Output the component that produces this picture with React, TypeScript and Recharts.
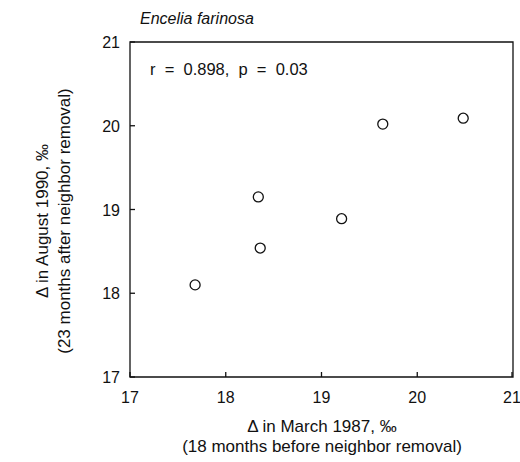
import React from 'react';
import { ScatterChart, Scatter, XAxis, YAxis, ReferenceArea } from 'recharts';

// delta values, per plant
const march1987 = [17.68, 18.34, 18.36, 19.21, 19.64, 20.48];
const august1990 = [18.1, 19.15, 18.54, 18.89, 20.02, 20.09];
const axisTicks = [17, 18, 19, 20, 21];

const points = march1987.map((x, i) => ({ x, y: august1990[i] }));

const FONT = '"Liberation Sans", Arial, Helvetica, sans-serif';
const INK = '#111';
const TICK = 5;
const TW = 1.3;

const BottomTick = (props: any) => {
  const { x, y, payload } = props;
  return (
    <g>
      <rect x={x - TW / 2} y={y - TICK} width={TW} height={TICK} fill={INK} />
      <text x={x} y={y + 26} textAnchor="middle" fontSize={16} fill={INK} fontFamily={FONT}>
        {payload.value}
      </text>
    </g>
  );
};

const TopTick = (props: any) => {
  const { x, y } = props;
  return <rect x={x - TW / 2} y={y} width={TW} height={TICK} fill={INK} />;
};

const LeftTick = (props: any) => {
  const { x, y, payload } = props;
  return (
    <g>
      <rect x={x} y={y - TW / 2} width={TICK} height={TW} fill={INK} />
      <text x={x - 10} y={y + 6} textAnchor="end" fontSize={16} fill={INK} fontFamily={FONT}>
        {payload.value}
      </text>
    </g>
  );
};

const RightTick = (props: any) => {
  const { x, y } = props;
  return <rect x={x - TICK} y={y - TW / 2} width={TICK} height={TW} fill={INK} />;
};

const Ring = (props: any) => (
  <circle cx={props.cx} cy={props.cy} r={5} fill="#fff" stroke={INK} strokeWidth={1.3} />
);

const textBase: React.CSSProperties = {
  position: 'absolute', fontFamily: FONT, color: INK, whiteSpace: 'pre', lineHeight: '20px',
};

export default function App() {
  return (
    <div style={{ position: 'absolute', left: 0, top: 0, width: 520, height: 462 }}>
      <ScatterChart width={520} height={462} margin={{ top: 41, right: 6, bottom: 0, left: 0 }}>
        <XAxis
          xAxisId="bottom"
          type="number"
          dataKey="x"
          domain={[17, 21]}
          ticks={axisTicks}
          height={85}
          tickSize={0}
          tickMargin={0}
          tick={<BottomTick />}
          axisLine={false}
        />
        <XAxis
          xAxisId="top"
          orientation="top"
          type="number"
          dataKey="x"
          domain={[17, 21]}
          ticks={axisTicks}
          height={1}
          tickSize={0}
          tickMargin={0}
          tick={<TopTick />}
          axisLine={false}
        />
        <YAxis
          yAxisId="left"
          type="number"
          dataKey="y"
          domain={[17, 21]}
          ticks={axisTicks}
          width={130}
          tickSize={0}
          tickMargin={0}
          tick={<LeftTick />}
          axisLine={false}
        />
        <YAxis
          yAxisId="right"
          orientation="right"
          type="number"
          dataKey="y"
          domain={[17, 21]}
          ticks={axisTicks}
          width={1}
          tickSize={0}
          tickMargin={0}
          tick={<RightTick />}
          axisLine={false}
        />
        <ReferenceArea
          xAxisId="bottom"
          yAxisId="left"
          x1={17}
          x2={21}
          y1={17}
          y2={21}
          fill="none"
          fillOpacity={0}
          stroke={INK}
          strokeWidth={1.3}
          strokeOpacity={1}
          ifOverflow="visible"
        />
        <Scatter
          data={points}
          xAxisId="bottom"
          yAxisId="left"
          shape={<Ring />}
          isAnimationActive={false}
        />
      </ScatterChart>
      <div style={{ ...textBase, left: 140, top: 9, fontSize: 16, fontStyle: 'italic' }}>
        Encelia farinosa
      </div>
      <div style={{ ...textBase, left: 150, top: 59, fontSize: 16.5 }}>
        {'r  =  0.898,  p  =  0.03'}
      </div>
      <div style={{ ...textBase, left: 130, width: 384, top: 417, fontSize: 17, textAlign: 'center' }}>
        {'Δ in March 1987, ‰\n(18 months before neighbor removal)'}
      </div>
      <div
        style={{
          ...textBase, left: 54 - 192, top: 221 - 22, width: 384, height: 44, fontSize: 17,
          lineHeight: '22px', textAlign: 'center', transform: 'rotate(-90deg)', transformOrigin: '50% 50%',
        }}
      >
        {'Δ in August 1990, ‰\n(23 months after neighbor removal)'}
      </div>
    </div>
  );
}
